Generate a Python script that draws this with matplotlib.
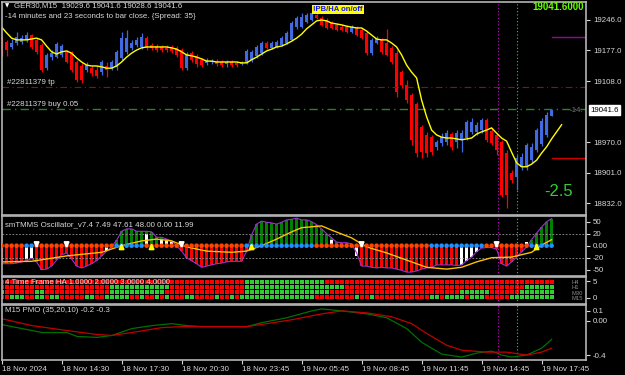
import matplotlib
matplotlib.use("Agg")
import matplotlib.pyplot as plt

plt.rcParams['font.family'] = ['Liberation Sans', 'DejaVu Sans']

# ---- main chart: GER30 M15 candles (bar index 0..110) ----
opens = [19201, 19196, 19185, 19194, 19196, 19201, 19212, 19201, 19189, 19137,
         19162, 19162, 19167, 19174, 19171, 19151, 19142, 19133, 19137, 19133,
         19128, 19142, 19137, 19140, 19160, 19174, 19183, 19189, 19185, 19205,
         19189, 19187, 19185, 19183, 19185, 19183, 19178, 19137, 19171, 19165,
         19156, 19149, 19151, 19153, 19151, 19146, 19151, 19149, 19146, 19149,
         19156, 19165, 19171, 19194, 19183, 19185, 19189, 19194, 19201, 19230,
         19230, 19241, 19246, 19257, 19250, 19246, 19239, 19235, 19230, 19230,
         19219, 19228, 19223, 19217, 19171, 19194, 19201, 19194, 19183, 19171,
         19128, 19099, 19076, 19056, 19004, 18986, 18981, 18959, 18968, 18970,
         18988, 18970, 18975, 18979, 18993, 18993, 18997, 19020, 18995, 18986,
         18970, 18945, 18900, 18891, 18914, 18914, 18929, 18952, 18966, 18986,
         19029.6]
closes = [19183, 19178, 19194, 19208, 19205, 19212, 19185, 19174, 19133, 19167,
          19171, 19192, 19187, 19151, 19133, 19110, 19110, 19144, 19126, 19119,
          19151, 19133, 19151, 19174, 19205, 19205, 19194, 19201, 19208, 19183,
          19183, 19178, 19178, 19178, 19176, 19167, 19137, 19167, 19156, 19146,
          19144, 19156, 19153, 19146, 19144, 19151, 19144, 19144, 19149, 19176,
          19174, 19185, 19194, 19183, 19194, 19196, 19205, 19217, 19239, 19250,
          19253, 19257, 19262, 19250, 19235, 19228, 19228, 19223, 19223, 19219,
          19230, 19212, 19205, 19171, 19201, 19205, 19174, 19167, 19151, 19083,
          19099, 19065, 18975, 18945, 18947, 18945, 18947, 18970, 18981, 18990,
          18959, 18990, 18990, 19015, 19015, 19009, 19020, 18975, 18968, 18952,
          18850, 18850, 18884, 18934, 18936, 18963, 18959, 18997, 19018, 19031,
          19041.6]
highs = [19210, 19201, 19203, 19219, 19212, 19219, 19214, 19205, 19194, 19171,
         19178, 19196, 19192, 19178, 19176, 19155, 19149, 19151, 19142, 19142,
         19155, 19151, 19155, 19178, 19219, 19223, 19201, 19208, 19217, 19210,
         19194, 19192, 19189, 19189, 19189, 19187, 19183, 19174, 19176, 19169,
         19160, 19160, 19158, 19158, 19156, 19156, 19156, 19153, 19153, 19180,
         19178, 19189, 19198, 19198, 19198, 19201, 19210, 19221, 19244, 19255,
         19262, 19262, 19266, 19262, 19255, 19250, 19244, 19239, 19235, 19235,
         19235, 19232, 19228, 19221, 19205, 19210, 19205, 19226, 19187, 19178,
         19133, 19110, 19081, 19061, 19009, 18993, 18986, 18975, 18990, 18997,
         18993, 18997, 18997, 19020, 19024, 19015, 19024, 19024, 19002, 18990,
         18975, 18952, 18907, 18941, 18945, 18968, 18968, 19002, 19024, 19038,
         19041.6]
lows = [19165, 19165, 19180, 19189, 19192, 19196, 19180, 19169, 19128, 19133,
        19155, 19160, 19162, 19149, 19128, 19106, 19103, 19128, 19119, 19115,
        19122, 19117, 19133, 19133, 19155, 19169, 19178, 19185, 19180, 19178,
        19178, 19174, 19174, 19174, 19172, 19162, 19133, 19133, 19151, 19140,
        19140, 19144, 19146, 19142, 19140, 19140, 19140, 19140, 19144, 19146,
        19151, 19160, 19167, 19180, 19180, 19183, 19187, 19192, 19198, 19226,
        19228, 19239, 19244, 19248, 19232, 19226, 19226, 19221, 19221, 19217,
        19217, 19210, 19203, 19167, 19167, 19192, 19169, 19165, 19146, 19072,
        19092, 19058, 18963, 18936, 18934, 18936, 18941, 18952, 18961, 18963,
        18952, 18956, 18947, 18975, 18988, 18986, 18990, 18970, 18963, 18941,
        18846, 18820, 18877, 18861, 18907, 18907, 18923, 18947, 18961, 18981,
        19028.6]

# moving average, shifted 2 bars forward (bars 0..112)
ma = [19230, 19217, 19205, 19201, 19201, 19201, 19203, 19205, 19201, 19187,
      19174, 19169, 19174, 19176, 19171, 19160, 19151, 19144, 19142, 19142,
      19140, 19137, 19137, 19142, 19151, 19162, 19171, 19178, 19183, 19185,
      19185, 19185, 19185, 19185, 19183, 19180, 19174, 19167, 19165, 19162,
      19158, 19153, 19153, 19151, 19151, 19151, 19151, 19151, 19149, 19149,
      19156, 19162, 19169, 19176, 19180, 19185, 19187, 19192, 19198, 19205,
      19214, 19226, 19235, 19244, 19246, 19244, 19239, 19237, 19235, 19232,
      19230, 19228, 19228, 19221, 19212, 19203, 19201, 19201, 19194, 19185,
      19167, 19144, 19128, 19115, 19065, 19027, 18997, 18986, 18981, 18979,
      18979, 18977, 18975, 18977, 18979, 18988, 18993, 18997, 19002, 18990,
      18979, 18972, 18947, 18923, 18914, 18914, 18920, 18929, 18945, 18959,
      18977, 18993, 19009]

price_ticks = [19246.0, 19177.0, 19108.0, 18970.0, 18901.0, 18832.0]
last_price = 19041.6
tp_level = 19094.4
buy_level = 19044.7
purple_level = 19207.5
red_level = 18933.8
mark_bars = [99.2, 103.1]

# ---- smTMMS oscillator ----
hist = [-30, -30, -30, -29, -27, -25, -21, -27, -40, -39,
        -34, -24, -15, -12, -22, -34, -37, -34, -30, -25,
        -17, -9, -2, 9, 24, 28, 28, 24, 24, 24,
        23, 14, 14, 11, 8, 0, -9, -20, -25, -30,
        -36, -34, -32, -30, -29, -27, -26, -26, -26, -9,
        18, 36, 41, 39, 38, 36, 39, 43, 44, 46,
        43, 43, 40, 35, 28, 20, 13, 6, 5, 5,
        3, -12, -34, -34, -36, -37, -36, -37, -37, -39,
        -41, -44, -44, -42, -39, -37, -36, -32, -32, -32,
        -32, -33, -32, -25, -19, -10, -4, -3, -3, -6,
        -30, -34, -27, -19, -10, -2, 10, 21, 31, 40,
        45]
white_idx = [5, 6, 21, 29, 32, 33, 34, 66, 71, 92, 93, 94, 95, 105]
white_val = [-22, -20, -9, 20, 10, 8, 6, 10, -17, -32, -25, -19, -10, 7]
dot_blue = [0, 0, 0, 0, 0, 1, 1, 0, 0, 0,
            0, 0, 0, 0, 0, 0, 0, 0, 0, 0,
            0, 0, 0, 1, 1, 1, 1, 1, 1, 0,
            0, 0, 0, 0, 0, 0, 0, 0, 0, 0,
            0, 0, 0, 0, 0, 0, 0, 0, 0, 1,
            1, 1, 1, 1, 1, 1, 1, 1, 1, 1,
            1, 1, 1, 0, 0, 0, 0, 0, 0, 0,
            0, 0, 0, 0, 0, 0, 0, 0, 0, 0,
            0, 0, 0, 0, 0, 0, 1, 1, 1, 1,
            1, 1, 1, 1, 1, 1, 1, 0, 0, 0,
            0, 0, 0, 0, 0, 0, 1, 1, 1, 1,
            1]
sig_bar = [0, 6, 13, 20, 24, 28, 31, 34, 37, 41, 46, 49, 52, 55, 58, 60, 64,
           66, 70, 73, 77, 81, 85, 89, 92, 95, 98, 102, 106, 108, 110]
sig_val = [-27, -26, -17, -11, 0, 8, 11, 8, -2, -9, -11, -9, 0, 11, 23, 30, 33,
           26, 13, -2, -12, -24, -36, -39, -36, -27, -20, -19, -11, 1, 10]
arrow_down = [7, 13, 36, 72, 99]
arrow_up = [24, 30, 50, 107]

# ---- 4 time frame HA (r = bear, g = bull), rows H4, H1, M30, M15 ----
ha_h4 = ("rrrrrrrrrr rrrrrrrrrr rrrrrrrrrr rrrrrrrrrr rrrrrrrrrg "
         "gggggggggg gggggrrrrr rrrrrrrrrr rrrrrrrrrr rrrrrrrrrr "
         "rrrrrrrrrr r").replace(" ", "")
ha_h1 = ("rrrrrrrrrr rrrrrrrrrr rrgggggggg ggggrrrrrr rrrrrrrrrg "
         "gggggggggg gggggggggr rrrrrrrrrr rrrrrrrrrr rrrrrrrrrr "
         "rrrrrggggg g").replace(" ", "")
ha_m30 = ("grrrrrrggr rrrrrrrrrr rrgggggggg gggrrrrrrr rrrrrrrrrg "
          "gggggggggg ggggggrrrr rrrrrrrrrr rrrrrrrrrr rrggggggrr "
          "rrrrgggggg g").replace(" ", "")
ha_m15 = ("rrgggrrggr ggrrrrrggr rgggggrrgr rgrgrrrggr rrrgrrgrgg "
          "gggggggggg gggrrrrrrr rgrrgrrrrr rrrrrrggrg gggrgggrrr "
          "rrgggggggg g").replace(" ", "")
ha_rows = [ha_h4, ha_h1, ha_m30, ha_m15]
ha_names = ["H4", "H1", "M30", "M15"]

# ---- PMO ----
pmo_red_bar = [0, 6, 13, 19, 22, 26, 32, 36, 49, 53, 58, 64, 68, 73, 78, 82,
               85, 89, 92, 97, 101, 105, 108, 110]
pmo_red_val = [0.02, -0.05, -0.10, -0.14, -0.15, -0.12, -0.07, -0.06, -0.06,
               -0.03, 0.01, 0.07, 0.10, 0.08, 0.04, -0.03, -0.13, -0.25,
               -0.30, -0.32, -0.32, -0.35, -0.32, -0.28]
pmo_grn_bar = [0, 3, 8, 13, 15, 19, 22, 26, 30, 34, 37, 40, 49, 52, 57, 62,
               64, 68, 73, 77, 81, 84, 88, 92, 95, 98, 100, 102, 105, 108, 110]
pmo_grn_val = [-0.04, -0.07, -0.12, -0.12, -0.16, -0.17, -0.15, -0.08, -0.05,
               -0.03, -0.05, -0.06, -0.06, -0.02, 0.03, 0.10, 0.12, 0.10, 0.07,
               0.03, -0.08, -0.22, -0.34, -0.37, -0.33, -0.31, -0.35, -0.37,
               -0.35, -0.28, -0.19]

time_ticks = [0, 12, 24, 36, 48, 60, 72, 84, 96, 108]
time_labels = ["18 Nov 2024", "18 Nov 14:30", "18 Nov 17:30", "18 Nov 20:30",
               "18 Nov 23:45", "19 Nov 05:45", "19 Nov 08:45", "19 Nov 11:45",
               "19 Nov 14:45", "19 Nov 17:45"]

W, H = 625, 375
BLUE = "#4169e1"
RED = "#ff0000"
TXT = "#d8d8d8"
FS = 5.7
XMIN, XMAX = (2 - 1.6) / 5, (586 - 1.6) / 5

fig = plt.figure(figsize=(W / 100, H / 100), dpi=100, facecolor="black")


def panel(y0, y1):
    ax = fig.add_axes([2 / W, 1 - y1 / H, 584 / W, (y1 - y0) / H])
    ax.set_facecolor("black")
    ax.set_xlim(XMIN, XMAX)
    for s in ax.spines.values():
        s.set_color("#b4b4b4")
        s.set_linewidth(1.2)
    ax.yaxis.tick_right()
    ax.tick_params(axis="y", colors=TXT, labelsize=FS, length=3, width=0.8, pad=2)
    ax.set_xticks([])
    return ax


def vmarks(ax):
    ax.axvline(mark_bars[0], color="#d000d0", lw=0.8, ls=(0, (1, 2)))
    ax.axvline(mark_bars[1], color="#20c0c0", lw=0.8, ls=(0, (1, 2)))


def ptxt(x, y, s, **kw):
    fig.text(x / W, 1 - y / H, s, **kw)


# ================= main =================
ax = panel(2, 215)
ax.set_ylim(18804.9, 19286.7)
ax.set_yticks(price_ticks)
ax.set_yticklabels([f"{p:.1f}" for p in price_ticks])

ax.axhline(tp_level, color="#b00000", lw=0.8, ls=(0, (6, 3, 1, 3)))
ax.axhline(buy_level, color="#2e7d32", lw=1.0, ls=(0, (6, 3, 1, 3)))
vmarks(ax)
ax.plot([110.1, XMAX], [purple_level] * 2, color="#a000a0", lw=1)
ax.plot([110.1, XMAX], [red_level] * 2, color="#d00000", lw=1)

for i, (o, c, h, l) in enumerate(zip(opens, closes, highs, lows)):
    col = BLUE if c >= o else RED
    ax.vlines(i, l, h, color=col, lw=0.9)
    ax.bar(i, max(abs(c - o), 2.3), bottom=min(o, c), width=0.62, color=col,
           linewidth=0)
ax.plot(range(len(ma)), ma, color="#ffff00", lw=1)

ptxt(5, 6, "\u25bc", color="white", fontsize=4, va="center",
     family="DejaVu Sans")
ptxt(14, 6, "GER30,M15  19029.6 19041.6 19028.6 19041.6", color=TXT,
     fontsize=FS, va="center")
ptxt(5, 16, "-14 minutes and 23 seconds to bar close. {Spread: 35}",
     color=TXT, fontsize=FS, va="center")
ptxt(7, 82, "#22811379 tp", color=TXT, fontsize=FS, va="center")
ptxt(7, 104, "#22811379 buy 0.05", color=TXT, fontsize=FS, va="center")
ptxt(584, 7.5, "19041.6000", color="#66ff00", fontsize=7, fontweight="bold",
     va="center", ha="right")
ptxt(338, 9.5, "!PB/HA on/off", color="#1010ff", fontsize=5.5,
     fontweight="bold", va="center", ha="center",
     bbox=dict(boxstyle="square,pad=0.15", fc="#ffff00", ec="none"))
ptxt(559, 191, "-2.5", color="#32cd32", fontsize=12, va="center", ha="center")
ptxt(583, 110, "-14.", color="#707070", fontsize=FS, va="center", ha="right")
ax.annotate(f"{last_price:.1f}", xy=(1.0, last_price), xycoords=("axes fraction", "data"),
            xytext=(3, 0), textcoords="offset points", va="center", ha="left",
            fontsize=FS, color="black",
            bbox=dict(boxstyle="square,pad=0.2", fc="white", ec="white"))

# ================= oscillator =================
ao = panel(216, 276)
ao.set_ylim(-50.5, 49.5)
ao.set_yticks([39.5, 20, 0, -20, -40.5])
ao.set_yticklabels(["50", "20", "0.00", "-20", "-50"])
for lv in (20, -20):
    ao.axhline(lv, color="#9a9a9a", lw=0.6, ls=(0, (2, 2)))
vmarks(ao)
bars = range(len(hist))
ao.bar(bars, hist, width=0.55, color=["#008000" if v > 0 else RED for v in hist],
       linewidth=0)
ao.bar(white_idx, white_val, width=0.55, color="white", linewidth=0)
ao.plot(bars, hist, color="#9932cc", lw=0.8)
ao.plot(sig_bar, sig_val, color="#ffc000", lw=1)
ao.scatter(bars, [0] * len(hist), s=11, linewidths=0,
           c=["#1e90ff" if b else "#ff4500" for b in dot_blue], zorder=3)
for i in arrow_down:
    ao.annotate("", xy=(i, -9), xytext=(i, 8),
                arrowprops=dict(arrowstyle="-|>", color="white", lw=1.5,
                                mutation_scale=7), zorder=4)
for i in arrow_up:
    ao.annotate("", xy=(i, 9), xytext=(i, -8),
                arrowprops=dict(arrowstyle="-|>", color="#ffff00", lw=1.5,
                                mutation_scale=7), zorder=4)
ptxt(5, 225, "smTMMS Oscillator_v7.4 7.49 47.61 48.00 0.00 11.99", color=TXT,
     fontsize=FS, va="center")

# ================= HA =================
ah = panel(277, 304)
ah.set_ylim(27, 0)
ah.set_yticks([4, 21])
ah.set_yticklabels(["5", "0"])
vmarks(ah)
for r, row in enumerate(ha_rows):
    cols = ["#ff0000" if ch == "r" else "#32cd32" for ch in row]
    ah.bar(range(len(row)), 4, bottom=3 + 5 * r, width=0.8, color=cols,
           linewidth=0)
for r, nm in enumerate(ha_names):
    ptxt(571, 282.5 + 5.3 * r, nm, color="#8a8a8a", fontsize=4.2, va="center")
ptxt(5, 282.5, "4 Time Frame HA 1.0000 2.0000 3.0000 4.0000", color=TXT,
     fontsize=FS, va="center")

# ================= PMO =================
ap = panel(305, 360)
ap.set_ylim(-0.40, 0.16)
ap.set_yticks([0.1, 0.0, -0.35])
ap.set_yticklabels(["0.1", "0.00", "-0.4"])
vmarks(ap)
ap.plot(pmo_grn_bar, pmo_grn_val, color="#007000", lw=0.9)
ap.plot(pmo_red_bar, pmo_red_val, color="#c00000", lw=0.9)
ptxt(5, 311, "M15 PMO (35,20,10) -0.2 -0.3", color=TXT, fontsize=FS,
     va="center")
ap.set_xticks(time_ticks)
ap.set_xticklabels(time_labels)
ap.tick_params(axis="x", colors=TXT, labelsize=FS, length=3, width=0.8, pad=1)
for lab in ap.get_xticklabels():
    lab.set_ha("left")

fig.savefig("out.png", dpi=100, facecolor="black")
